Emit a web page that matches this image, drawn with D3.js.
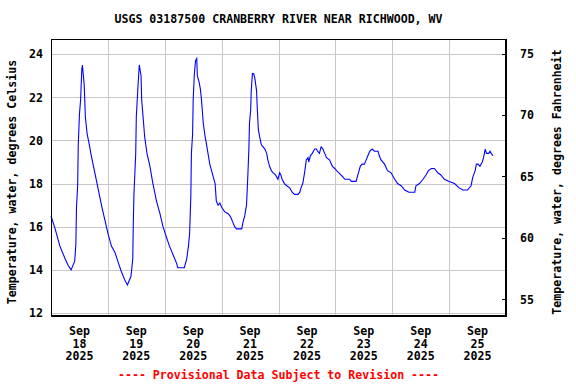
<!DOCTYPE html>
<html>
<head>
<meta charset="utf-8">
<script src="https://cdn.jsdelivr.net/npm/d3@7"></script>
<style>
  html, body { margin: 0; padding: 0; background: #fff; }
  svg { display: block; }
  text { font-family: "DejaVu Sans Mono", "Liberation Mono", monospace; font-weight: bold; font-size: 11.6px; }
</style>
</head>
<body>
<script>
const title = "USGS 03187500 CRANBERRY RIVER NEAR RICHWOOD, WV";
const footnote = "---- Provisional Data Subject to Revision ----";
const leftLabel = "Temperature, water, degrees Celsius";
const rightLabel = "Temperature, water, degrees Fahrenheit";

const times = [
"2025-09-18 00:00","2025-09-18 01:45","2025-09-18 03:45","2025-09-18 06:00","2025-09-18 07:15","2025-09-18 08:30",
"2025-09-18 10:00","2025-09-18 10:30","2025-09-18 10:45","2025-09-18 11:15","2025-09-18 11:30","2025-09-18 12:00",
"2025-09-18 12:30","2025-09-18 13:00","2025-09-18 13:15","2025-09-18 14:00","2025-09-18 14:30","2025-09-18 15:15",
"2025-09-18 16:00","2025-09-18 17:00","2025-09-18 18:30","2025-09-18 20:00","2025-09-18 21:30","2025-09-18 22:45",
"2025-09-19 00:00","2025-09-19 01:30","2025-09-19 03:00","2025-09-19 04:30","2025-09-19 05:45","2025-09-19 07:15",
"2025-09-19 08:15","2025-09-19 09:45","2025-09-19 10:30","2025-09-19 10:45","2025-09-19 11:00","2025-09-19 11:45",
"2025-09-19 12:00","2025-09-19 12:45","2025-09-19 13:15","2025-09-19 14:00","2025-09-19 14:15","2025-09-19 15:00",
"2025-09-19 15:30","2025-09-19 16:30","2025-09-19 17:45","2025-09-19 19:00","2025-09-19 20:30","2025-09-19 22:00",
"2025-09-19 23:15","2025-09-20 00:45","2025-09-20 02:00","2025-09-20 03:30","2025-09-20 05:00","2025-09-20 05:30",
"2025-09-20 08:15","2025-09-20 09:15","2025-09-20 10:00","2025-09-20 10:30","2025-09-20 11:00","2025-09-20 11:15",
"2025-09-20 11:45","2025-09-20 12:00","2025-09-20 12:30","2025-09-20 13:00","2025-09-20 13:30","2025-09-20 13:45",
"2025-09-20 14:30","2025-09-20 15:00","2025-09-20 15:30","2025-09-20 16:15","2025-09-20 17:00","2025-09-20 17:30",
"2025-09-20 18:15","2025-09-20 19:00","2025-09-20 19:45","2025-09-20 20:30","2025-09-20 21:15","2025-09-20 21:45",
"2025-09-20 22:30","2025-09-20 23:15","2025-09-21 00:00","2025-09-21 01:15","2025-09-21 02:45","2025-09-21 03:30",
"2025-09-21 04:00","2025-09-21 04:45","2025-09-21 05:30","2025-09-21 06:15","2025-09-21 08:30","2025-09-21 09:00",
"2025-09-21 09:45","2025-09-21 10:30","2025-09-21 11:00","2025-09-21 11:30","2025-09-21 11:45","2025-09-21 12:15",
"2025-09-21 12:30","2025-09-21 13:00","2025-09-21 13:30","2025-09-21 14:00","2025-09-21 14:45","2025-09-21 15:00",
"2025-09-21 15:30","2025-09-21 16:00","2025-09-21 16:45","2025-09-21 17:30","2025-09-21 18:15","2025-09-21 19:00",
"2025-09-21 19:30","2025-09-21 20:15","2025-09-21 21:00","2025-09-21 21:45","2025-09-21 22:45","2025-09-21 23:45",
"2025-09-22 00:30","2025-09-22 01:00","2025-09-22 01:30","2025-09-22 02:30","2025-09-22 03:30","2025-09-22 04:45",
"2025-09-22 05:45","2025-09-22 06:45","2025-09-22 08:15","2025-09-22 09:00","2025-09-22 09:30","2025-09-22 10:15",
"2025-09-22 11:00","2025-09-22 11:45","2025-09-22 12:30","2025-09-22 12:45","2025-09-22 13:30","2025-09-22 14:15",
"2025-09-22 15:15","2025-09-22 16:00","2025-09-22 16:30","2025-09-22 17:15","2025-09-22 18:00","2025-09-22 18:45",
"2025-09-22 19:30","2025-09-22 20:15","2025-09-22 21:30","2025-09-22 22:45","2025-09-22 23:45","2025-09-23 00:30",
"2025-09-23 01:30","2025-09-23 03:15","2025-09-23 04:00","2025-09-23 06:00","2025-09-23 06:45","2025-09-23 08:45",
"2025-09-23 09:30","2025-09-23 10:30","2025-09-23 11:15","2025-09-23 12:15","2025-09-23 13:00","2025-09-23 13:45",
"2025-09-23 14:30","2025-09-23 15:30","2025-09-23 16:30","2025-09-23 18:00","2025-09-23 18:30","2025-09-23 19:15",
"2025-09-23 20:45","2025-09-23 22:00","2025-09-23 23:30","2025-09-24 01:00","2025-09-24 02:15","2025-09-24 03:45",
"2025-09-24 05:15","2025-09-24 07:00","2025-09-24 09:30","2025-09-24 10:00","2025-09-24 11:30","2025-09-24 13:00",
"2025-09-24 14:15","2025-09-24 15:15","2025-09-24 16:30","2025-09-24 17:45","2025-09-24 19:15","2025-09-24 20:30",
"2025-09-24 22:00","2025-09-25 00:00","2025-09-25 02:15","2025-09-25 04:15","2025-09-25 05:45","2025-09-25 07:45",
"2025-09-25 09:15","2025-09-25 10:00","2025-09-25 11:00","2025-09-25 11:30","2025-09-25 12:15","2025-09-25 13:00",
"2025-09-25 14:00","2025-09-25 14:30","2025-09-25 15:15","2025-09-25 15:45","2025-09-25 16:45","2025-09-25 17:15",
"2025-09-25 17:45","2025-09-25 18:30"
];

const tempC = [
16.5,15.9,15.1,14.5,14.2,14.0,
14.4,15.2,16.9,17.9,19.8,21.2,
21.9,23.3,23.5,22.6,21.1,20.3,
19.9,19.3,18.5,17.7,16.9,16.3,
15.7,15.1,14.8,14.3,13.9,13.5,
13.3,13.7,14.5,16.3,17.5,19.4,
21.1,22.6,23.5,23.0,21.9,20.9,
20.2,19.4,18.8,18.0,17.2,16.6,
16.0,15.5,15.1,14.7,14.3,14.1,
14.1,14.5,15.1,15.7,17.4,19.4,
20.3,21.9,23.1,23.7,23.8,23.0,
22.7,22.4,21.9,20.8,20.2,19.9,
19.4,18.9,18.6,18.3,18.0,17.2,
17.0,17.1,16.9,16.7,16.6,16.5,
16.4,16.2,16.0,15.9,15.9,16.2,
16.5,17.0,18.2,19.6,20.8,21.4,
22.3,23.1,23.1,22.9,22.3,21.6,
20.5,20.2,19.8,19.7,19.6,19.4,
19.1,18.8,18.6,18.5,18.4,18.2,
18.5,18.4,18.2,18.0,17.9,17.8,
17.6,17.5,17.5,17.6,17.8,18.0,
18.5,19.1,19.2,19.0,19.3,19.4,
19.6,19.6,19.5,19.4,19.7,19.6,
19.4,19.2,19.1,18.8,18.7,18.6,
18.5,18.3,18.2,18.2,18.1,18.1,
18.4,18.8,18.9,18.9,19.1,19.3,
19.5,19.6,19.5,19.5,19.3,19.1,
18.9,18.6,18.5,18.2,18.0,17.9,
17.7,17.6,17.6,17.9,18.0,18.2,
18.4,18.6,18.7,18.7,18.5,18.4,
18.2,18.1,18.0,17.8,17.7,17.7,
17.9,18.3,18.6,18.9,18.9,18.8,
19.0,19.2,19.6,19.4,19.4,19.5,
19.4,19.3
];

const xStart = "2025-09-18 00:00";
const xEnd = "2025-09-26 00:00";
const dayTicks = ["2025-09-18","2025-09-19","2025-09-20","2025-09-21","2025-09-22","2025-09-23","2025-09-24","2025-09-25"];
const cTicks = [12, 14, 16, 18, 20, 22, 24];
const fTicks = [55, 60, 65, 70, 75];

const W = 576, H = 384;
const plot = { left: 51, right: 506, top: 39.5, bottom: 316 };

const parse = d3.timeParse("%Y-%m-%d %H:%M");
const parseDay = d3.timeParse("%Y-%m-%d");
const data = times.map((t, i) => ({ t: parse(t), v: tempC[i] }));

const x = d3.scaleTime().domain([parse(xStart), parse(xEnd)]).range([plot.left, plot.right]);
const y = d3.scaleLinear().domain([11.86, 24.68]).range([plot.bottom, plot.top]);
const yF = d3.scaleLinear().domain([53.64, 76.14]).range([plot.bottom, plot.top]);

const svg = d3.select("body").append("svg").attr("width", W).attr("height", H);

// grid
const grid = svg.append("g").attr("stroke", "#c8c8c8").attr("stroke-width", 1).attr("shape-rendering", "crispEdges");
grid.selectAll("line.h").data(cTicks).join("line")
  .attr("x1", plot.left).attr("x2", plot.right)
  .attr("y1", d => Math.round(y(d)) + 0.5).attr("y2", d => Math.round(y(d)) + 0.5);
grid.selectAll("line.v").data(dayTicks.slice(1)).join("line")
  .attr("y1", plot.top).attr("y2", plot.bottom)
  .attr("x1", d => Math.round(x(parseDay(d))) + 0.5).attr("x2", d => Math.round(x(parseDay(d))) + 0.5);

// line
const line = d3.line().x(d => x(d.t)).y(d => y(d.v));
svg.append("path").datum(data).attr("d", line)
  .attr("fill", "none").attr("stroke", "#0000ff").attr("stroke-width", 1.1);

// frame
svg.append("rect").attr("x", plot.left + 0.5).attr("y", plot.top).attr("width", plot.right - plot.left - 0.5)
  .attr("height", plot.bottom - plot.top).attr("fill", "none").attr("stroke", "#000").attr("stroke-width", 1.2)
  .attr("shape-rendering", "crispEdges");

// left axis
const yAxis = d3.axisLeft(y).tickValues(cTicks).tickSize(0).tickPadding(8).tickFormat(d3.format("d"));
const gl = svg.append("g").attr("transform", `translate(${plot.left},0)`).call(yAxis);
gl.select(".domain").remove();
gl.selectAll("text").attr("font-family", null).attr("font-size", null).attr("fill", "#000");

// right axis
const yAxisR = d3.axisRight(yF).tickValues(fTicks).tickSize(0).tickPadding(14).tickFormat(d3.format("d"));
const gr = svg.append("g").attr("transform", `translate(${plot.right},0)`).call(yAxisR);
gr.select(".domain").remove();
gr.selectAll("text").attr("font-family", null).attr("font-size", null).attr("fill", "#000");
svg.append("g").selectAll("line").data(fTicks).join("line")
  .attr("x1", plot.right - 4).attr("x2", plot.right)
  .attr("y1", d => Math.round(yF(d)) + 0.5).attr("y2", d => Math.round(yF(d)) + 0.5)
  .attr("stroke", "#000").attr("shape-rendering", "crispEdges");

// x labels
const fmtMon = d3.timeFormat("%b"), fmtDay = d3.timeFormat("%d"), fmtYear = d3.timeFormat("%Y");
const xl = svg.append("g").attr("text-anchor", "middle");
dayTicks.forEach(d => {
  const dt = parseDay(d);
  const cx = x(d3.timeHour.offset(dt, 12));
  const t = xl.append("text").attr("x", cx).attr("y", 335);
  t.append("tspan").attr("x", cx).attr("dy", 0).text(fmtMon(dt));
  t.append("tspan").attr("x", cx).attr("dy", 12.7).text(fmtDay(dt));
  t.append("tspan").attr("x", cx).attr("dy", 12.7).text(fmtYear(dt));
});

// title
svg.append("text").attr("x", (plot.left + plot.right) / 2).attr("y", 23)
  .attr("text-anchor", "middle").text(title);
// footnote
svg.append("text").attr("x", (plot.left + plot.right) / 2).attr("y", 379)
  .attr("text-anchor", "middle").attr("fill", "#ff0000").text(footnote);

// axis titles
svg.append("text").attr("transform", "translate(16,182) rotate(-90)")
  .attr("text-anchor", "middle").text(leftLabel);
svg.append("text").attr("transform", "translate(561,182) rotate(-90)")
  .attr("text-anchor", "middle").text(rightLabel);
</script>
</body>
</html>
